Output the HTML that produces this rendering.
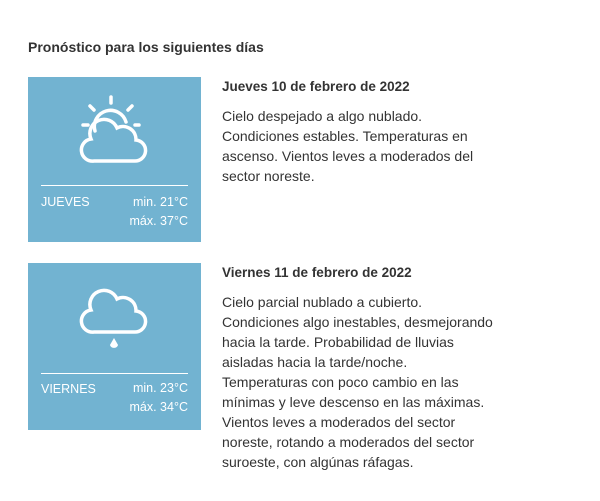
<!DOCTYPE html>
<html><head><meta charset="utf-8"><style>
body{margin:0;background:#fff;width:600px;height:501px;position:relative;font-family:"Liberation Sans",sans-serif;color:#333;overflow:hidden}
.h{position:absolute;left:28px;top:39px;font-size:14px;font-weight:bold;color:#333}
.box{position:absolute;left:28px;width:173px;background:#72b3d1;color:#fff}
.line{position:absolute;left:13px;right:13px;height:1px;background:#fff}
.d{position:absolute;left:13px;font-size:12.5px}
.t{position:absolute;right:13px;font-size:12.5px;text-align:right;line-height:19px}
.txt{position:absolute;left:222px;font-size:14px;line-height:20px;color:#333;white-space:nowrap}
.txt b{display:block;margin-bottom:9px;font-size:13.5px}
</style></head><body>
<div class="h">Pronóstico para los siguientes días</div>

<div class="box" style="top:77px;height:165px">
<svg style="position:absolute;left:50px;top:18px" width="72" height="72" viewBox="0 0 72 72" fill="none" stroke="#fff" stroke-width="3.5" stroke-linecap="round">
<line x1="33" y1="2" x2="33" y2="8"/><line x1="12" y1="11" x2="16" y2="15"/><line x1="54" y1="11" x2="50" y2="15"/><line x1="5" y1="30" x2="10" y2="30"/><line x1="57" y1="30" x2="61" y2="30"/>
<path d="M17 36 A16 16 0 0 1 48 27"/>
<path d="M16 66 A11 11 0 0 1 13 44 A14 14 0 0 1 39 33 A13 13 0 0 1 58 45 A10.5 10.5 0 0 1 56 66 Z"/>
</svg>
<div class="line" style="top:108px"></div>
<div class="d" style="top:118px">JUEVES</div>
<div class="t" style="top:116px">min. 21°C<br>máx. 37°C</div>
</div>
<div class="txt" style="top:77px"><b>Jueves 10 de febrero de 2022</b>Cielo despejado a algo nublado.<br>Condiciones estables. Temperaturas en<br>ascenso. Vientos leves a moderados del<br>sector noreste.</div>

<div class="box" style="top:263px;height:167px">
<svg style="position:absolute;left:50px;top:20px" width="72" height="72" viewBox="0 0 72 72" fill="none" stroke="#fff" stroke-width="3.5" stroke-linecap="round">
<g transform="translate(0,9)">
<path d="M16 40 A11 11 0 0 1 13 18 A14 14 0 0 1 39 7 A13 13 0 0 1 58 19 A10.5 10.5 0 0 1 56 40 Z"/>
<path d="M36 47 L32.5 53 A3.8 3.8 0 0 0 39.5 53 Z" fill="#fff" stroke-width="1"/>
</g>
</svg>
<div class="line" style="top:110px"></div>
<div class="d" style="top:119px">VIERNES</div>
<div class="t" style="top:116px">min. 23°C<br>máx. 34°C</div>
</div>
<div class="txt" style="top:263px"><b>Viernes 11 de febrero de 2022</b>Cielo parcial nublado a cubierto.<br>Condiciones algo inestables, desmejorando<br>hacia la tarde. Probabilidad de lluvias<br>aisladas hacia la tarde/noche.<br>Temperaturas con poco cambio en las<br>mínimas y leve descenso en las máximas.<br>Vientos leves a moderados del sector<br>noreste, rotando a moderados del sector<br>suroeste, con algúnas ráfagas.</div>
</body></html>
